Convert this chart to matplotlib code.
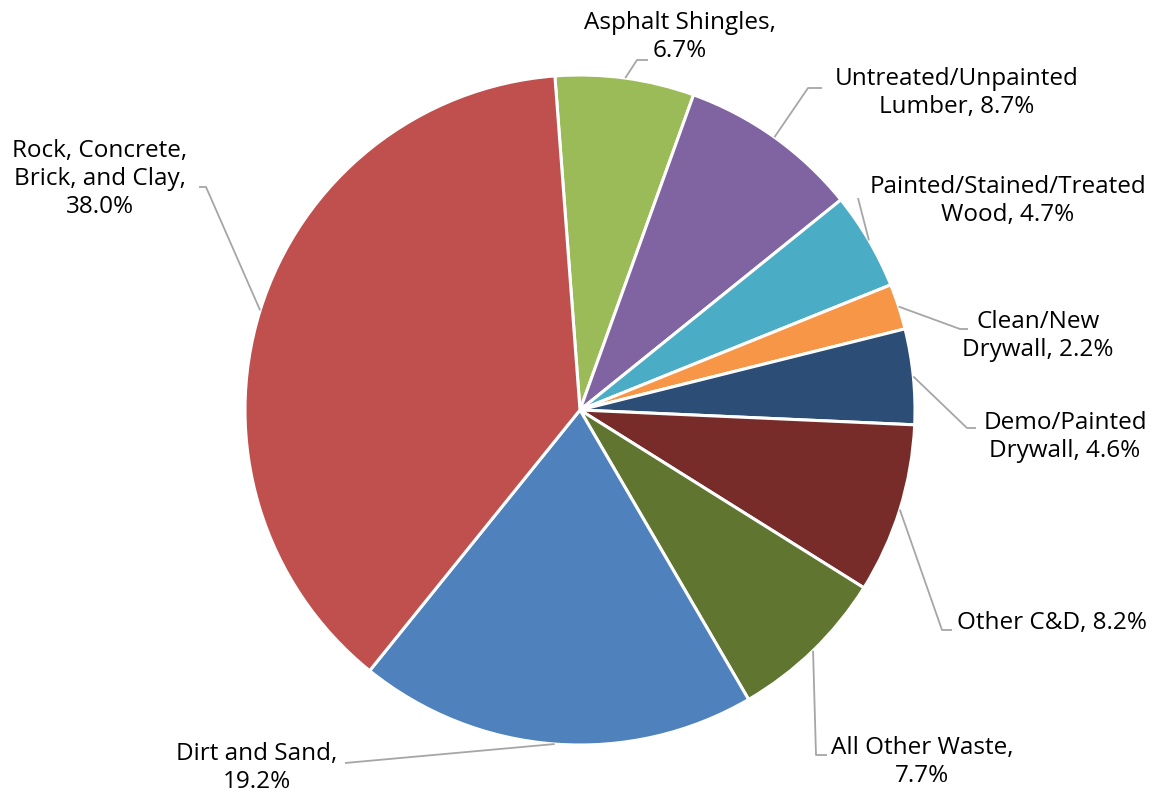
import numpy as np
import matplotlib.pyplot as plt

plt.rcParams["font.family"] = ["Open Sans", "DejaVu Sans"]

# waste composition, clockwise from the top
labels = [
    "Asphalt Shingles,\n6.7%",
    "Untreated/Unpainted\nLumber, 8.7%",
    "Painted/Stained/Treated\nWood, 4.7%",
    "Clean/New\nDrywall, 2.2%",
    "Demo/Painted\nDrywall, 4.6%",
    "Other C&D, 8.2%",
    "All Other Waste,\n7.7%",
    "Dirt and Sand,\n19.2%",
    "Rock, Concrete,\nBrick, and Clay,\n38.0%",
]
shares = [6.7, 8.7, 4.7, 2.2, 4.6, 8.2, 7.7, 19.2, 38.0]
colors = ["#9BBB59", "#8064A2", "#4BACC6", "#F79646", "#2C4D75",
          "#772C2A", "#5F7530", "#4F81BD", "#C0504D"]

W, H = 1156, 797
fig = plt.figure(figsize=(W / 100, H / 100), dpi=100)
ax = fig.add_axes([0, 0, 1, 1])

cx, cy, r = 580, H - 410, 335
wedges, _ = ax.pie(shares, colors=colors, startangle=94.3, counterclock=False,
                   center=(cx, cy), radius=r, frame=True,
                   wedgeprops=dict(edgecolor="white", linewidth=2.2))
ax.set_xlim(0, W)
ax.set_ylim(0, H)
ax.axis("off")

# label block centre, leader elbow and where the leader meets the text (pixels from top-left)
placement = [
    ((680, 37), (637, 60), (648, 60)),
    ((957, 93), (808, 88), (822, 88)),
    ((1008, 201), (858, 198), (858, 198)),
    ((1038, 336), (960, 329), (968, 329)),
    ((1065, 437), (967, 428), (976, 428)),
    ((1052, 623), (942, 630), (952, 630)),
    ((922, 762), (816, 755), (827, 755)),
    ((257, 768), (345, 763), (345, 763)),
    ((100, 179), (206, 187), (199, 187)),
]

for w, text, (pos, elbow, end) in zip(wedges, labels, placement):
    mid = np.deg2rad((w.theta1 + w.theta2) / 2)
    start = (cx + r * np.cos(mid), cy + r * np.sin(mid))
    xs = [start[0], elbow[0], end[0]]
    ys = [start[1], H - elbow[1], H - end[1]]
    ax.plot(xs, ys, color="#A6A6A6", linewidth=1.3, solid_capstyle="butt")
    ax.text(pos[0], H - pos[1], text, ha="center", va="center",
            fontsize=17.5, color="#000000", linespacing=1.2)

fig.savefig("out.png", dpi=100)
